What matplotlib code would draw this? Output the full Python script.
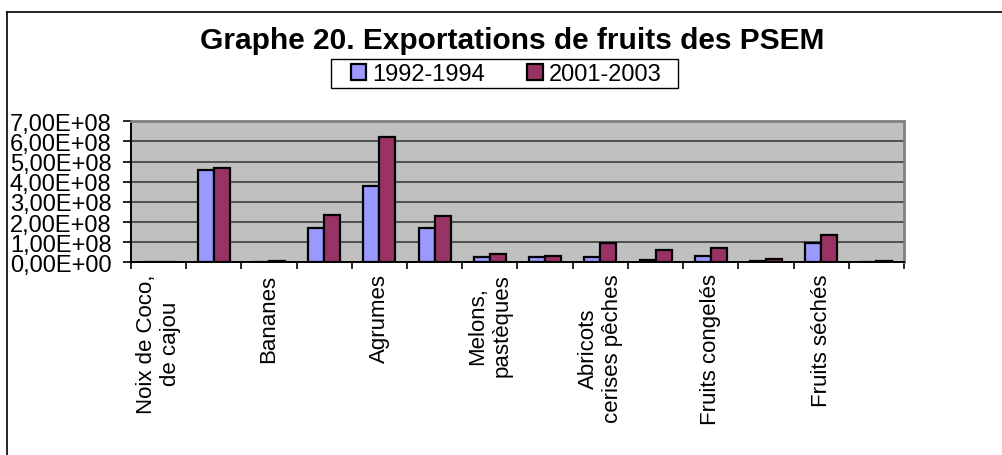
import matplotlib
matplotlib.use("Agg")
import matplotlib.pyplot as plt
from matplotlib.patches import Patch, Rectangle
from matplotlib.lines import Line2D
from matplotlib.ticker import FuncFormatter, MultipleLocator
import numpy as np

plt.rcParams['font.family'] = ['Liberation Sans', 'DejaVu Sans']

categories = ["Noix de Coco,\nde cajou", "", "Bananes", "", "Agrumes", "",
              "Melons,\npastèques", "", "Abricots\ncerises pêches", "",
              "Fruits congelés", "", "Fruits séchés", ""]
series_names = ["1992-1994", "2001-2003"]
vals_1992 = [0.0, 4.58e8, 0.01e8, 1.69e8, 3.79e8, 1.69e8, 0.28e8,
             0.28e8, 0.28e8, 0.12e8, 0.30e8, 0.06e8, 0.94e8, 0.0]
vals_2001 = [0.0, 4.70e8, 0.06e8, 2.35e8, 6.24e8, 2.30e8, 0.41e8,
             0.33e8, 0.96e8, 0.63e8, 0.69e8, 0.14e8, 1.34e8, 0.05e8]
title = "Graphe 20. Exportations de fruits des PSEM"
colors = ["#9999FF", "#993366"]

W, H = 1003, 456
fig = plt.figure(figsize=(W / 100, H / 100), dpi=100)

# outer chart border (left and top visible)
fig.add_artist(Line2D([7 / W, 7 / W], [0, 1 - 13 / H], color="black", lw=1.2,
                      transform=fig.transFigure))
fig.add_artist(Line2D([7 / W, 1], [1 - 13 / H, 1 - 13 / H], color="black", lw=1.2,
                      transform=fig.transFigure))

left, right, top, bottom = 131, 904, 122.3, 263.3
ax = fig.add_axes([left / W, 1 - bottom / H, (right - left) / W, (bottom - top) / H])
ax.set_facecolor("#C0C0C0")

n = len(categories)
centers = np.arange(n) + 0.5
bw = 0.29
ax.bar(centers - bw / 2, vals_1992, width=bw, color=colors[0], edgecolor="black",
       linewidth=1.6, zorder=3)
ax.bar(centers + bw / 2, vals_2001, width=bw, color=colors[1], edgecolor="black",
       linewidth=1.6, zorder=3)

ax.set_xlim(0, n)
ax.set_ylim(0, 7e8)
ax.yaxis.set_major_locator(MultipleLocator(1e8))
ax.yaxis.set_major_formatter(FuncFormatter(lambda v, p: f"{v:.2E}".replace(".", ",")))
ax.grid(axis="y", color="#3c3c3c", lw=1.2, zorder=1)
ax.set_axisbelow(True)

ax.set_xticks(centers)
ax.set_xticklabels(categories, rotation=90, ha="center", va="top",
                   multialignment="center", fontsize=16)
ax.set_xticks(np.arange(n + 1), minor=True)
ax.tick_params(axis="x", which="major", length=0, pad=8)
ax.tick_params(axis="x", which="minor", length=5, width=1.2, color="black", direction="out")
ax.tick_params(axis="y", which="major", length=6, width=1.2, color="black",
               direction="out", labelsize=17, pad=8)

for s in ["left", "bottom"]:
    ax.spines[s].set_color("black")
    ax.spines[s].set_linewidth(1.4)
for s in ["top", "right"]:
    ax.spines[s].set_color("#808080")
    ax.spines[s].set_linewidth(2)

fig.text(512 / W, 1 - 49 / H, title, ha="center", va="baseline",
         fontsize=21.5, fontweight="bold")

# legend frame drawn manually
fig.add_artist(Rectangle((331 / W, 1 - 89 / H), (678 - 331) / W, 29 / H,
                         facecolor="white", edgecolor="black", lw=1.0,
                         transform=fig.transFigure, zorder=4))
handles = [Patch(facecolor=colors[0], edgecolor="black", linewidth=1.6),
           Patch(facecolor=colors[1], edgecolor="black", linewidth=1.6)]
leg = fig.legend(handles, series_names, loc="center", ncol=2,
                 bbox_to_anchor=(506 / W, 1 - 75 / H), fontsize=17,
                 frameon=False, handlelength=0.65, handleheight=0.65,
                 handletextpad=0.25, columnspacing=1.8, borderpad=0.2,
                 borderaxespad=0)
leg.set_zorder(5)

fig.savefig("out.png", dpi=100)
